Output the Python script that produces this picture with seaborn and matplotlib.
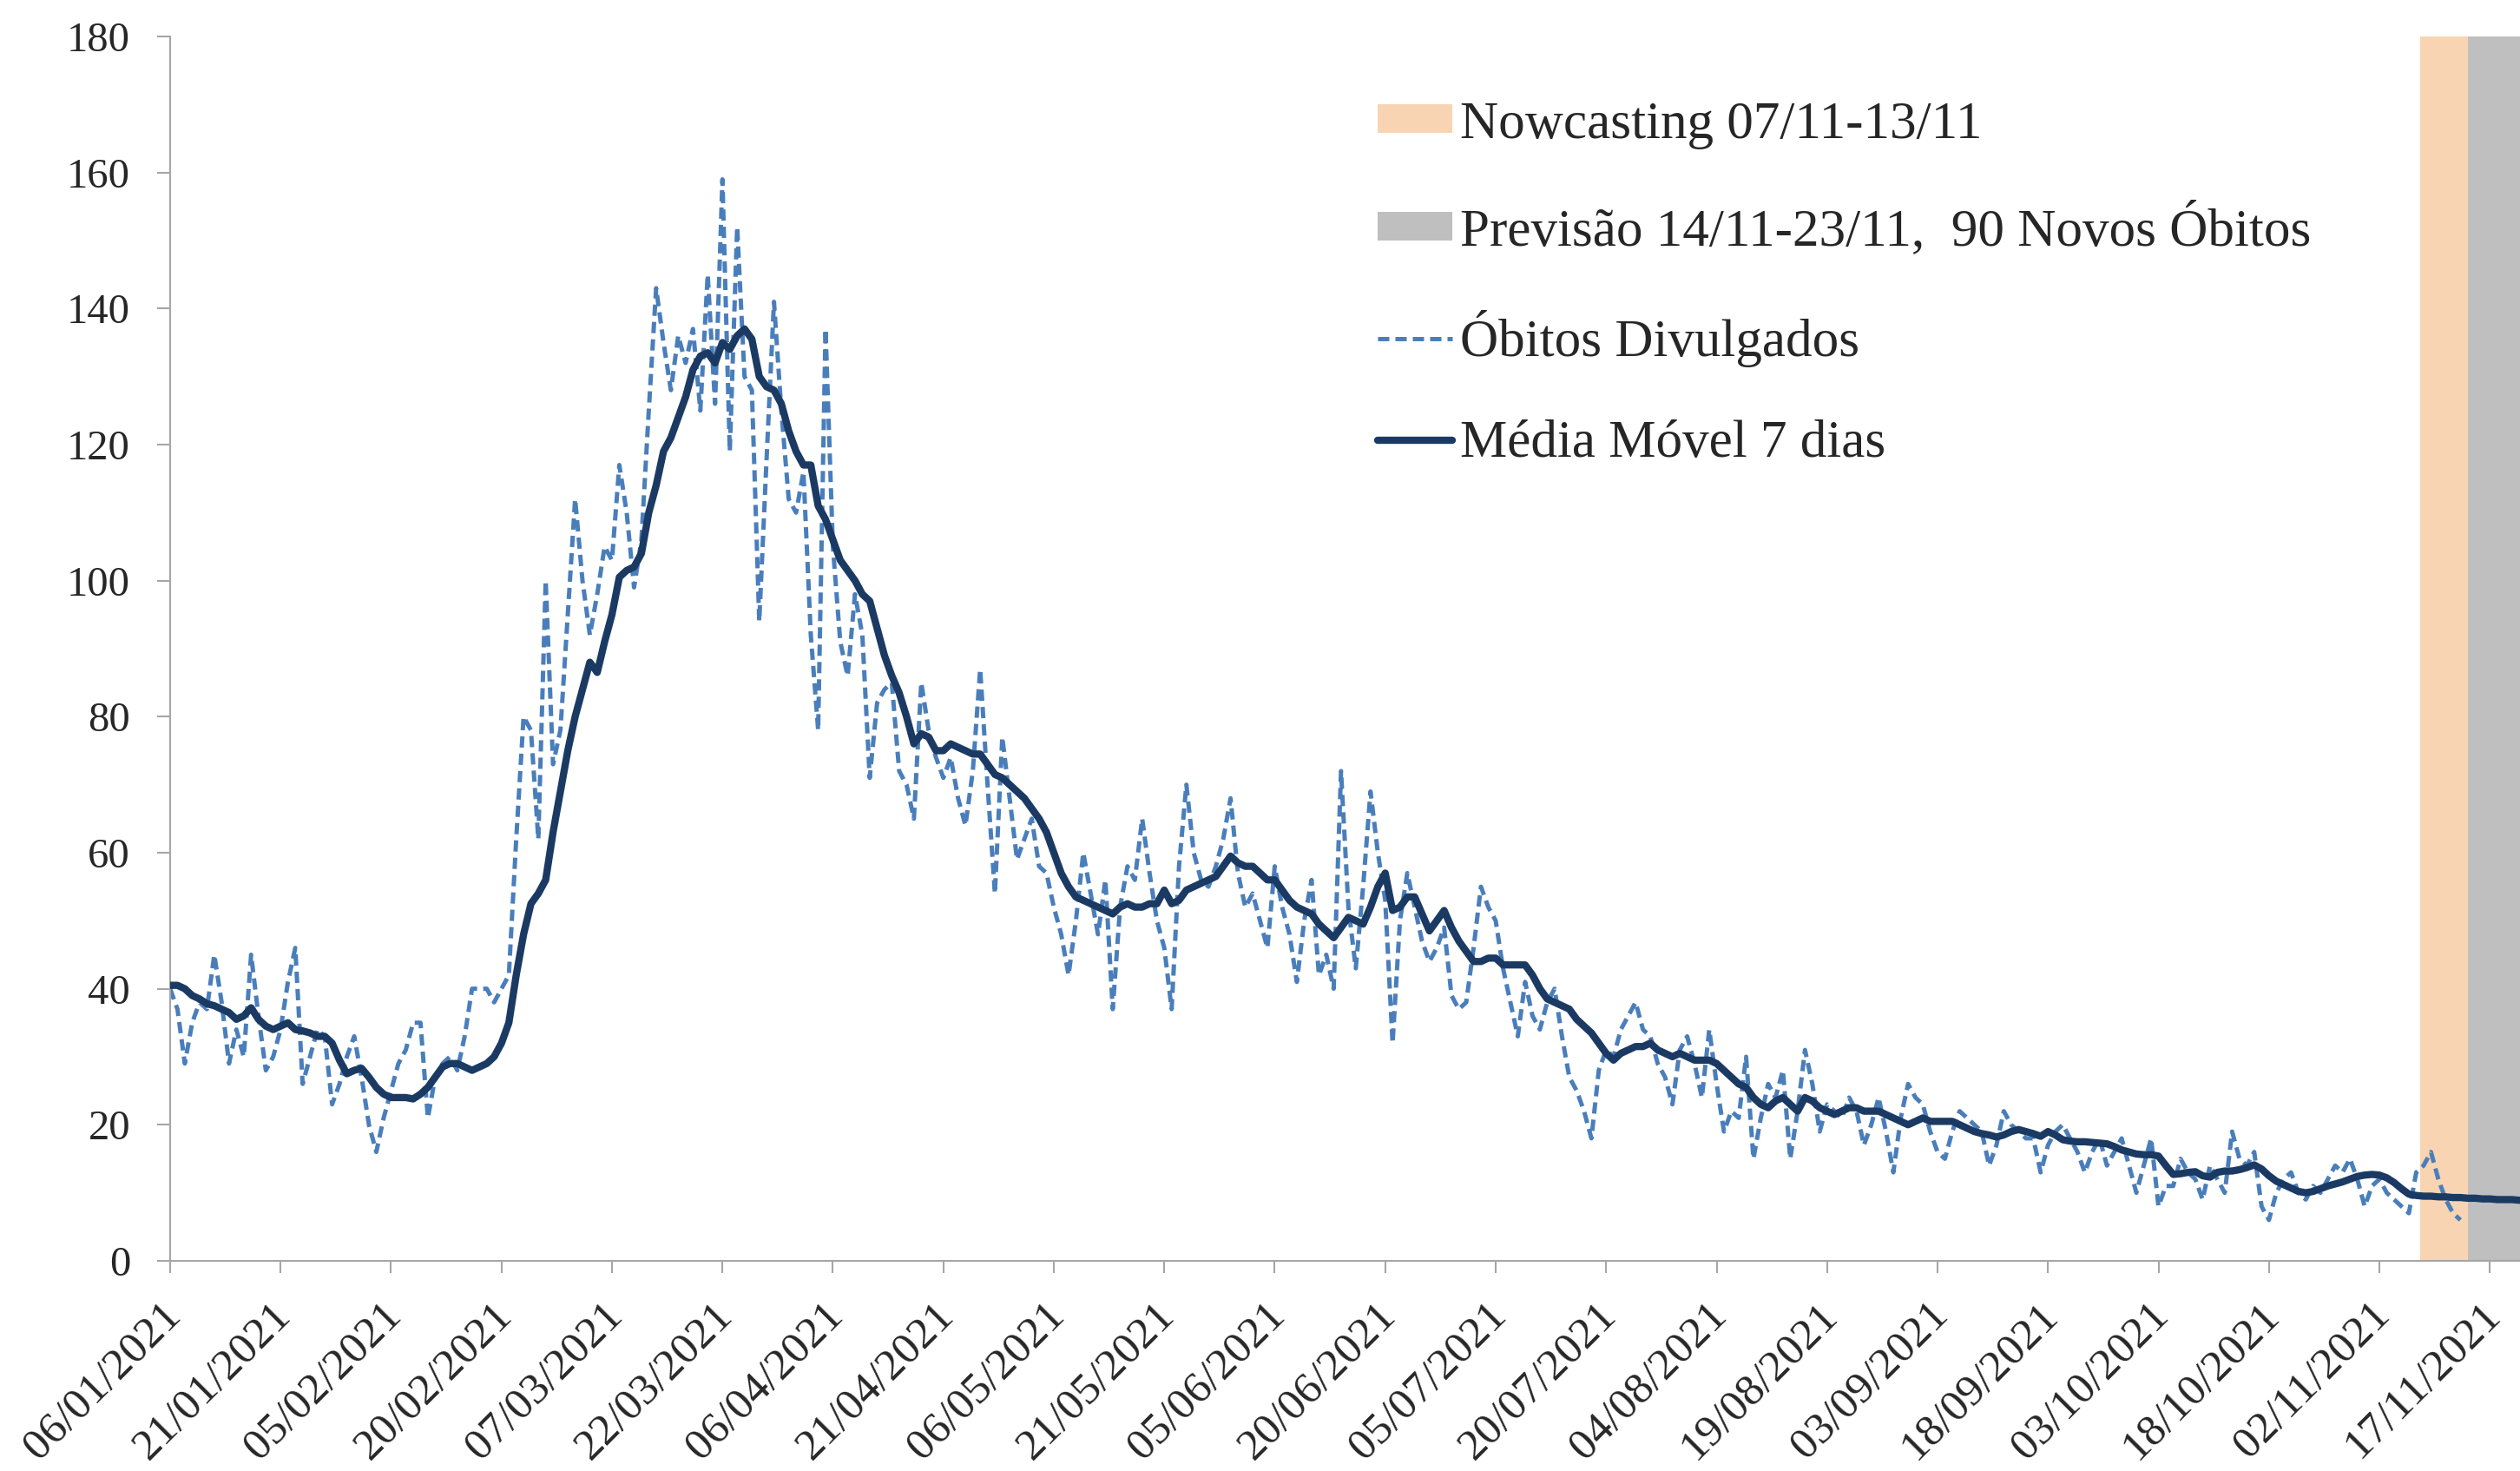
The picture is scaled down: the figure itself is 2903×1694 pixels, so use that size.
import numpy as np
import pandas as pd
import seaborn as sns
import matplotlib
matplotlib.use('Agg')
import matplotlib.pyplot as plt
import matplotlib.dates as mdates
from matplotlib.patches import Patch
from matplotlib.lines import Line2D
from matplotlib.transforms import ScaledTranslation

# serie diaria a partir de 06/01/2021
start_date = '2021-01-06'
obitos_divulgados = [
    40, 37, 29, 35, 38, 37, 45,
    38, 29, 34, 30, 45, 36, 28,
    30, 34, 41, 46, 26, 30, 34,
    33, 23, 26, 30, 33, 27, 20,
    16, 21, 25, 29, 31, 35, 35,
    21, 27, 29, 30, 28, 33, 40,
    40, 40, 38, 40, 42, 62, 80,
    78, 62, 100, 73, 78, 95, 112,
    100, 92, 98, 105, 103, 117, 110,
    99, 106, 125, 143, 135, 128, 136,
    132, 137, 125, 145, 126, 159, 119,
    152, 130, 128, 94, 118, 141, 125,
    112, 110, 116, 92, 78, 137, 105,
    91, 86, 98, 92, 71, 82, 84,
    85, 72, 70, 65, 85, 78, 74,
    71, 74, 68, 64, 72, 87, 70,
    54, 77, 68, 59, 62, 65, 58,
    57, 52, 48, 42, 50, 60, 54,
    48, 56, 37, 52, 58, 56, 65,
    57, 50, 46, 37, 58, 70, 60,
    56, 55, 58, 62, 68, 57, 52,
    54, 50, 46, 58, 52, 48, 41,
    50, 56, 42, 45, 40, 72, 52,
    43, 55, 69, 60, 53, 32, 50,
    57, 52, 47, 44, 46, 49, 39,
    37, 38, 46, 55, 52, 50, 43,
    38, 33, 41, 36, 34, 38, 40,
    33, 27, 25, 22, 18, 28, 31,
    30, 34, 36, 38, 34, 33, 29,
    27, 23, 31, 33, 29, 24, 34,
    26, 19, 22, 21, 30, 15, 21,
    26, 24, 28, 15, 22, 31, 26,
    19, 23, 22, 21, 24, 22, 17,
    20, 24, 19, 13, 21, 26, 24,
    23, 19, 16, 15, 19, 22, 21,
    20, 19, 14, 17, 22, 20, 19,
    18, 18, 13, 17, 19, 20, 18,
    16, 13, 16, 18, 14, 16, 18,
    14, 10, 14, 18, 8, 11, 11,
    15, 13, 12, 9, 14, 12, 10,
    19, 15, 14, 16, 8, 6, 10,
    12, 13, 10, 9, 11, 10, 12,
    14, 13, 15, 12, 8, 11, 12,
    10, 9, 8, 7, 13, 14, 16,
    12, 9, 7, 6,
]

media_movel_7d = [
    40.5, 40.5, 40, 39, 38.5, 37.8, 37.5,
    37, 36.5, 35.5, 36, 37.2, 35.5, 34.5,
    34, 34.5, 35, 34, 33.8, 33.5, 33,
    33, 32, 29.5, 27.5, 28, 28.3, 27,
    25.5, 24.5, 24, 24, 24, 23.8, 24.5,
    25.5, 27, 28.5, 29, 29, 28.5, 28,
    28.5, 29, 30, 32, 35, 42, 48,
    52.5, 54, 56, 63, 69, 75, 80,
    84, 88, 86.5, 91, 95, 100.5, 101.5,
    102, 104, 110, 114, 119, 121, 124,
    127, 131, 133, 133.5, 132, 135, 134,
    136, 137, 135.5, 130, 128.5, 128, 126,
    122, 119, 117, 117, 111, 109, 106,
    103, 101.5, 100, 98, 97, 93, 89,
    86, 83.5, 80, 76, 77.5, 77, 75,
    75, 76, 75.5, 75, 74.5, 74.5, 73,
    71.5, 71, 70, 69, 68, 66.5, 65,
    63, 60, 57, 55, 53.5, 53, 52.5,
    52, 51.5, 51, 52, 52.5, 52, 52,
    52.5, 52.5, 54.5, 52.5, 53, 54.5, 55,
    55.5, 56, 56.5, 58, 59.5, 58.5, 58,
    58, 57, 56, 56, 54.5, 53, 52,
    51.5, 51, 49.5, 48.5, 47.5, 49, 50.5,
    50, 49.5, 52, 55, 57, 51.5, 52,
    53.5, 53.5, 51, 48.5, 50, 51.5, 49,
    47, 45.5, 44, 44, 44.5, 44.5, 43.5,
    43.5, 43.5, 43.5, 42, 40, 38.5, 38,
    37.5, 37, 35.5, 34.5, 33.5, 32, 30.5,
    29.5, 30.5, 31, 31.5, 31.5, 32, 31,
    30.5, 30, 30.5, 30, 29.5, 29.5, 29.5,
    29, 28, 27, 26, 25.5, 24, 23,
    22.5, 23.5, 24, 23, 22, 24, 23.5,
    22.5, 22, 21.5, 22, 22.5, 22.5, 22,
    22, 22, 21.5, 21, 20.5, 20, 20.5,
    21, 20.5, 20.5, 20.5, 20.5, 20, 19.5,
    19, 18.7, 18.5, 18.2, 18.5, 19, 19.3,
    19, 18.7, 18.3, 19, 18.5, 17.8, 17.6,
    17.5, 17.5, 17.4, 17.3, 17.2, 16.8, 16.3,
    16, 15.7, 15.6, 15.6, 15.4, 14, 12.7,
    12.8, 13, 13.1, 12.5, 12.3, 13, 13.2,
    13.2, 13.4, 13.7, 14.1, 13.5, 12.5, 11.7,
    11.2, 10.7, 10.2, 10, 10.2, 10.6, 11,
    11.3, 11.6, 12, 12.4, 12.6, 12.7, 12.6,
    12.2, 11.5, 10.6, 9.8, 9.6, 9.5, 9.5,
    9.4, 9.4, 9.3, 9.3, 9.2, 9.2, 9.1,
    9.1, 9.0, 9.0, 9.0, 8.9, 8.9, 8.8,
]

nowcast_start = '2021-11-07'
forecast_start = '2021-11-14'
forecast_end = '2021-11-23'
y_ticks = [0, 20, 40, 60, 80, 100, 120, 140, 160, 180]
legend_labels = ['Nowcasting 07/11-13/11',
                 'Previsão 14/11-23/11,  90 Novos Óbitos',
                 'Óbitos Divulgados',
                 'Média Móvel 7 dias']

c_orange = '#F9D4B2'
c_gray = '#BFBFBF'
c_blue = '#4A7EBB'
c_navy = '#1B3A63'
c_axis = '#A6A6A6'

daily = pd.DataFrame({'data': pd.date_range(start_date, periods=len(obitos_divulgados)),
                      'obitos': obitos_divulgados})
mm = pd.DataFrame({'data': pd.date_range(start_date, periods=len(media_movel_7d)),
                   'media': media_movel_7d})

sns.set_style('ticks')
plt.rcParams['font.family'] = ['Liberation Serif', 'DejaVu Serif']

fig = plt.figure(figsize=(29.03, 16.94), dpi=100)
# axes runs a bit past the right edge, like the cropped original
ax = fig.add_axes([0.0675, 0.1429, 0.941, 0.8323])

half_day = pd.Timedelta(hours=12)
ax.axvspan(pd.Timestamp(nowcast_start) + half_day, pd.Timestamp(forecast_start),
           color=c_orange, lw=0, zorder=0)
ax.axvspan(pd.Timestamp(forecast_start), pd.Timestamp(forecast_end) + pd.Timedelta(days=1),
           color=c_gray, lw=0, zorder=0)

dash = (0, (2.6, 1.4))
sns.lineplot(data=daily, x='data', y='obitos', ax=ax, color=c_blue, lw=3.6,
             linestyle=dash, errorbar=None, zorder=2)
sns.lineplot(data=mm, x='data', y='media', ax=ax, color=c_navy, lw=6,
             errorbar=None, zorder=3)

ax.set_xlim(pd.Timestamp(start_date), pd.Timestamp(forecast_end) + pd.Timedelta(days=1))
ax.set_ylim(0, 180)
ax.set_yticks(y_ticks)
ax.set_xticks(pd.date_range(start_date, periods=22, freq='15D'))
ax.xaxis.set_major_formatter(mdates.DateFormatter('%d/%m/%Y'))
ax.set_xlabel('')
ax.set_ylabel('')

for side in ['top', 'right']:
    ax.spines[side].set_visible(False)
for side in ['left', 'bottom']:
    ax.spines[side].set_color(c_axis)
    ax.spines[side].set_linewidth(1.5)

ax.tick_params(axis='y', labelsize=35, length=11, width=1.5, color=c_axis, pad=22)
ax.tick_params(axis='x', labelsize=37, length=10, width=1.5, color=c_axis, pad=30)
plt.setp(ax.get_xticklabels(), rotation=45, ha='right', va='center', rotation_mode='anchor')
# nudge the date labels a little to the right
shift = ScaledTranslation(0.05, 0, fig.dpi_scale_trans)
for lab in ax.get_xticklabels():
    lab.set_transform(lab.get_transform() + shift)

handles = [Patch(facecolor=c_orange, edgecolor='none'),
           Patch(facecolor=c_gray, edgecolor='none'),
           Line2D([], [], color=c_blue, lw=3.6, linestyle=dash),
           Line2D([], [], color=c_navy, lw=6)]
fig.legend(handles, legend_labels, loc='upper left', bbox_to_anchor=(0.5467, 0.9315),
           frameon=False, fontsize=44, handlelength=1.4, handleheight=0.45,
           handletextpad=0.15, labelspacing=1.0, borderpad=0, borderaxespad=0)

fig.savefig('out.png', dpi=100)
